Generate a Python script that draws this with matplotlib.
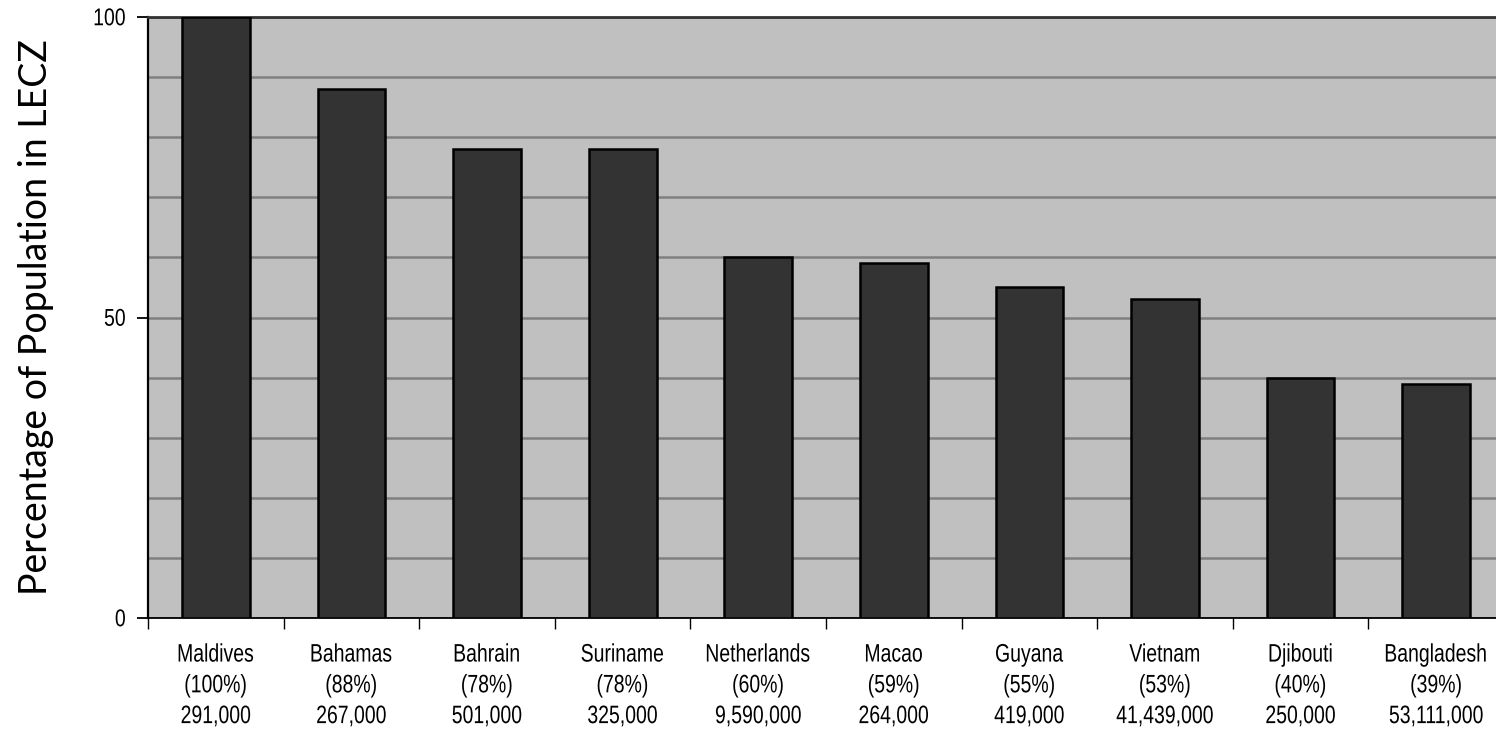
import matplotlib
matplotlib.use("Agg")
import matplotlib.pyplot as plt
from matplotlib.patheffects import AbstractPathEffect
from matplotlib.transforms import Affine2D
import numpy as np

countries = ["Maldives", "Bahamas", "Bahrain", "Suriname", "Netherlands",
             "Macao", "Guyana", "Vietnam", "Djibouti", "Bangladesh"]
percent = [100, 88, 78, 78, 60, 59, 55, 53, 40, 39]
population = ["291,000", "267,000", "501,000", "325,000", "9,590,000",
              "264,000", "419,000", "41,439,000", "250,000", "53,111,000"]
ylabel = "Percentage of Population in LECZ"


class VStretch(AbstractPathEffect):
    """Stretch glyphs vertically (the reference text is tall and narrow)."""
    def __init__(self, sy, center=0.0):
        super().__init__()
        self.sy = sy
        self.center = center

    def draw_path(self, renderer, gc, tpath, affine, rgbFace=None):
        pre = (Affine2D().translate(0, -self.center).scale(1, self.sy)
               .translate(0, self.center))
        renderer.draw_path(gc, tpath, pre + affine, rgbFace)


fig = plt.figure(figsize=(14.96, 7.31), dpi=100)
W, H = 1496, 731
left_px, right_px, top_px, bottom_px = 148, 1504, 17, 618
ax = fig.add_axes([left_px / W, 1 - bottom_px / H,
                   (right_px - left_px) / W, (bottom_px - top_px) / H])

ax.set_facecolor("#c0c0c0")
x = np.arange(len(countries))
ax.bar(x, percent, width=0.5, color="#333333", edgecolor="black",
       linewidth=1.8, zorder=3)

ax.set_xlim(-0.5, len(countries) - 0.5)
ax.set_ylim(0, 100)

# gridlines every 10
ax.set_yticks(np.arange(10, 100, 10), minor=True)
ax.yaxis.grid(True, which="minor", color="#808080", linewidth=1.8, zorder=1)
ax.tick_params(axis="y", which="minor", length=0)
ax.set_yticks([0, 50, 100])
ax.yaxis.grid(True, which="major", color="#808080", linewidth=1.8, zorder=1)
ax.tick_params(axis="y", which="major", length=8, width=1.3, direction="out",
               labelsize=14, pad=8, color="black")

labels = [f"{c}\n({p}%)\n{pop}" for c, p, pop in zip(countries, percent, population)]
ax.set_xticks(x)
ax.set_xticklabels(labels, fontsize=14, linespacing=2.06, family="Liberation Sans")
ax.tick_params(axis="x", which="major", length=0, pad=22)
ax.set_xticks(np.arange(-0.5, len(countries), 1.0), minor=True)
ax.tick_params(axis="x", which="minor", length=8, width=1.0, color="black")

for lab in ax.get_xticklabels():
    lab.set_path_effects([VStretch(1.3, 0.0)])
for lab in ax.get_yticklabels():
    lab.set_family("Liberation Sans")
    lab.set_path_effects([VStretch(1.25, 36.0)])

ax.spines["right"].set_visible(False)
ax.spines["top"].set_color("#333333")
ax.spines["top"].set_linewidth(2)
ax.spines["left"].set_color("black")
ax.spines["left"].set_linewidth(1.6)
ax.spines["bottom"].set_color("black")
ax.spines["bottom"].set_linewidth(1.3)

ax.set_ylabel(ylabel, fontsize=27, family="Lato")
ax.yaxis.set_label_coords(-0.069, 0.5)

fig.savefig("out.png", dpi=100)
